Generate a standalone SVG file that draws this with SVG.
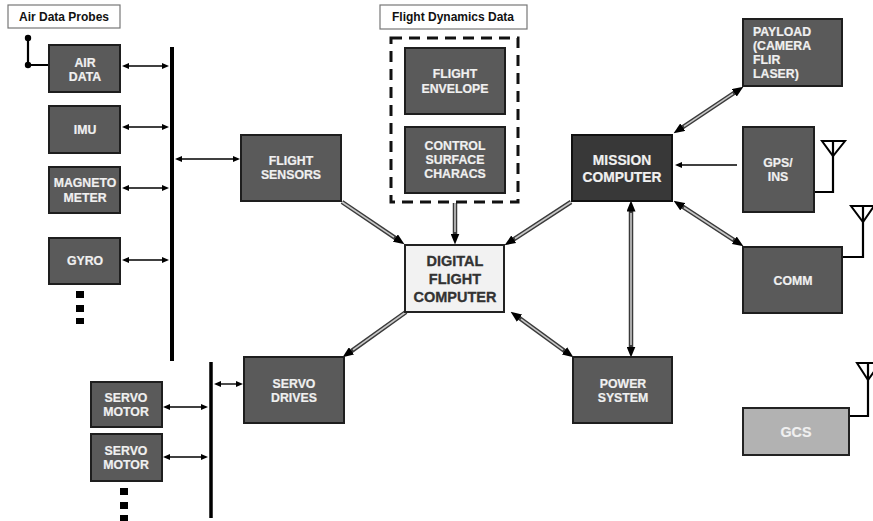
<svg xmlns="http://www.w3.org/2000/svg" width="873" height="521" viewBox="0 0 873 521">
<style>
.nd{fill:#5a5a5a;stroke:#1e1e1e;stroke-width:2}
.mc{fill:#383838;stroke:#111;stroke-width:2}
.dfc{fill:#f2f2f2;stroke:#222;stroke-width:2}
.gcs{fill:#b2b2b2;stroke:#222;stroke-width:2}
.lbl{fill:#f0f0f0;stroke:#f0f0f0;stroke-width:0.2;font-family:"Liberation Sans",Arial,sans-serif;font-weight:bold;font-size:12.3px;text-anchor:middle}
.big{font-size:13.8px}
.dk{fill:#333;stroke:#333;stroke-width:0.3;font-family:"Liberation Sans",Arial,sans-serif;font-weight:bold;font-size:14.5px;text-anchor:middle}
.ttl{fill:#111;font-family:"Liberation Sans",Arial,sans-serif;font-weight:bold;font-size:12px;text-anchor:middle}
.tbox{fill:#fff;stroke:#777;stroke-width:1.2}
.bus{stroke:#000;stroke-width:4;fill:none}
.thin{stroke:#000;stroke-width:1.4;fill:none}
.th{stroke:#3a3a3a;stroke-width:4.5;fill:none}
.ti{stroke:#c8c8c8;stroke-width:1.6;fill:none}
.ant{stroke:#000;stroke-width:2.2;fill:none}
.dot{fill:#000}
</style>
<defs>
<marker id="ah" markerUnits="userSpaceOnUse" viewBox="0 0 11 9" markerWidth="11" markerHeight="9" refX="1.5" refY="4.5" orient="auto-start-reverse">
<path d="M0,0 L11,4.5 L0,9 z" fill="#000"/>
</marker>
<marker id="sh" markerUnits="userSpaceOnUse" viewBox="0 0 7 6" markerWidth="7" markerHeight="6" refX="1" refY="3" orient="auto-start-reverse">
<path d="M0,0 L7,3 L0,6 z" fill="#000"/>
</marker>
</defs>

<g id="titles">
<rect class="tbox" x="8" y="5" width="112" height="23"/>
<text class="ttl" x="64" y="21">Air Data Probes</text>
<rect class="tbox" x="380" y="5" width="147" height="24"/>
<text class="ttl" x="453" y="21">Flight Dynamics Data</text>
</g>

<g id="connectors">
<line class="bus" x1="172" y1="47" x2="172" y2="361"/>
<line class="bus" x1="211" y1="362" x2="211" y2="518" style="stroke-width:3.5"/>
<path class="ant" d="M28,38 V65 H49"/>
<circle class="dot" cx="28" cy="38" r="3.2"/>
<circle class="dot" cx="28" cy="65" r="3.2"/>
<line class="thin" x1="128" y1="66" x2="163" y2="66" marker-start="url(#sh)" marker-end="url(#sh)"/>
<line class="thin" x1="128" y1="127" x2="163" y2="127" marker-start="url(#sh)" marker-end="url(#sh)"/>
<line class="thin" x1="128" y1="188" x2="163" y2="188" marker-start="url(#sh)" marker-end="url(#sh)"/>
<line class="thin" x1="128" y1="260" x2="163" y2="260" marker-start="url(#sh)" marker-end="url(#sh)"/>
<line class="thin" x1="181" y1="159" x2="234" y2="159" marker-start="url(#sh)" marker-end="url(#sh)"/>
<line class="thin" x1="220" y1="384" x2="237" y2="384" marker-start="url(#sh)" marker-end="url(#sh)"/>
<line class="thin" x1="169" y1="407" x2="202" y2="407" marker-start="url(#sh)" marker-end="url(#sh)"/>
<line class="thin" x1="169" y1="457" x2="202" y2="457" marker-start="url(#sh)" marker-end="url(#sh)"/>
<line class="thin" x1="737" y1="165" x2="681" y2="165" marker-end="url(#sh)"/>
<path class="th" d="M342,202 L396.6,238.9" marker-end="url(#ah)"/>
<path class="ti" d="M342,202 L394,237.2"/>
<path class="th" d="M571,202 L512.5,240.1" marker-end="url(#ah)"/>
<path class="ti" d="M571,202 L515,238.5"/>
<path class="th" d="M406,312 L350.3,351.8" marker-end="url(#ah)"/>
<path class="ti" d="M406,312 L353,349.9"/>
<path class="th" d="M518.3,317.3 L565.7,351.7" marker-start="url(#ah)" marker-end="url(#ah)"/>
<path class="ti" d="M521,319.2 L563,349.8"/>
<path class="th" d="M631,210 L631,348" marker-start="url(#ah)" marker-end="url(#ah)"/>
<path class="ti" d="M631,213 L631,345"/>
<path class="th" d="M681.5,128 L735.5,92" marker-start="url(#ah)" marker-end="url(#ah)"/>
<path class="ti" d="M684,126.3 L733,93.7"/>
<path class="th" d="M681.5,205.9 L735.5,241.1" marker-start="url(#ah)" marker-end="url(#ah)"/>
<path class="ti" d="M684,207.5 L733,239.5"/>
<path class="th" d="M455,203 L455,235" marker-end="url(#ah)"/>
<path class="ti" d="M455,203 L455,232"/>
<path class="ant" d="M814,192 H833 V142"/>
<path class="ant" d="M822,141 H845 L833,156 Z" style="stroke-width:2"/>
<path class="ant" d="M842,257 H863 V207"/>
<path class="ant" d="M851,206 H874 L863,222 Z" style="stroke-width:2"/>
<path class="ant" d="M849,416 H868 V364"/>
<path class="ant" d="M857,363 H880 L868,380 Z" style="stroke-width:2"/>
<rect class="dot" x="76" y="291" width="8" height="7"/>
<rect class="dot" x="76" y="305" width="8" height="7"/>
<rect class="dot" x="76" y="318" width="8" height="6"/>
<rect class="dot" x="120" y="488" width="8" height="7"/>
<rect class="dot" x="120" y="502" width="8" height="7"/>
<rect class="dot" x="120" y="515" width="8" height="6"/>
</g>

<g id="air-data"><rect class="nd" x="49" y="45" width="71" height="47"/><text class="lbl" x="85" y="67">AIR</text><text class="lbl" x="85" y="81">DATA</text></g>
<g id="imu"><rect class="nd" x="49" y="106" width="71" height="47"/><text class="lbl" x="85" y="134">IMU</text></g>
<g id="magnetometer"><rect class="nd" x="49" y="167" width="71" height="46"/><text class="lbl" x="85" y="187">MAGNETO</text><text class="lbl" x="85" y="202">METER</text></g>
<g id="gyro"><rect class="nd" x="49" y="238" width="71" height="46"/><text class="lbl" x="85" y="265">GYRO</text></g>
<g id="flight-sensors"><rect class="nd" x="241" y="135" width="100" height="66"/><text class="lbl" x="291" y="165">FLIGHT</text><text class="lbl" x="291" y="179">SENSORS</text></g>

<g id="flight-dynamics">
<rect x="391" y="38" width="127" height="164" fill="none" stroke="#111" stroke-width="3" stroke-dasharray="11,7"/>
</g>
<g id="flight-envelope"><rect class="nd" x="405" y="48" width="100" height="66"/><text class="lbl" x="455" y="78">FLIGHT</text><text class="lbl" x="455" y="93">ENVELOPE</text></g>
<g id="control-surface"><rect class="nd" x="405" y="127" width="100" height="66"/><text class="lbl" x="455" y="150">CONTROL</text><text class="lbl" x="455" y="164">SURFACE</text><text class="lbl" x="455" y="178">CHARACS</text></g>

<g id="digital-flight-computer"><rect class="dfc" x="405" y="245" width="99" height="67"/><text class="dk" x="455" y="266">DIGITAL</text><text class="dk" x="455" y="284">FLIGHT</text><text class="dk" x="455" y="302">COMPUTER</text></g>

<g id="mission-computer"><rect class="mc" x="572" y="135" width="100" height="66"/><text class="lbl big" x="622" y="165">MISSION</text><text class="lbl big" x="622" y="182">COMPUTER</text></g>

<g id="payload"><rect class="nd" x="743" y="19" width="99" height="67"/>
<text class="lbl" x="753" y="36" style="text-anchor:start">PAYLOAD</text>
<text class="lbl" x="753" y="50" style="text-anchor:start">(CAMERA</text>
<text class="lbl" x="753" y="64" style="text-anchor:start">FLIR</text>
<text class="lbl" x="753" y="78" style="text-anchor:start">LASER)</text></g>

<g id="gps-ins"><rect class="nd" x="743" y="127" width="71" height="85"/><text class="lbl" x="778" y="167">GPS/</text><text class="lbl" x="778" y="181">INS</text></g>
<g id="comm"><rect class="nd" x="743" y="247" width="99" height="66"/><text class="lbl" x="793" y="285">COMM</text></g>
<g id="gcs"><rect class="gcs" x="743" y="408" width="106" height="47"/><text class="lbl big" x="796" y="437" style="font-size:14.3px">GCS</text></g>

<g id="servo-drives"><rect class="nd" x="244" y="357" width="100" height="66"/><text class="lbl" x="294" y="388">SERVO</text><text class="lbl" x="294" y="402">DRIVES</text></g>
<g id="servo-motor-1"><rect class="nd" x="91" y="382" width="71" height="45"/><text class="lbl" x="126" y="402">SERVO</text><text class="lbl" x="126" y="416">MOTOR</text></g>
<g id="servo-motor-2"><rect class="nd" x="91" y="434" width="71" height="47"/><text class="lbl" x="126" y="455">SERVO</text><text class="lbl" x="126" y="469">MOTOR</text></g>
<g id="power-system"><rect class="nd" x="573" y="357" width="99" height="66"/><text class="lbl" x="623" y="388">POWER</text><text class="lbl" x="623" y="402">SYSTEM</text></g>
</svg>
